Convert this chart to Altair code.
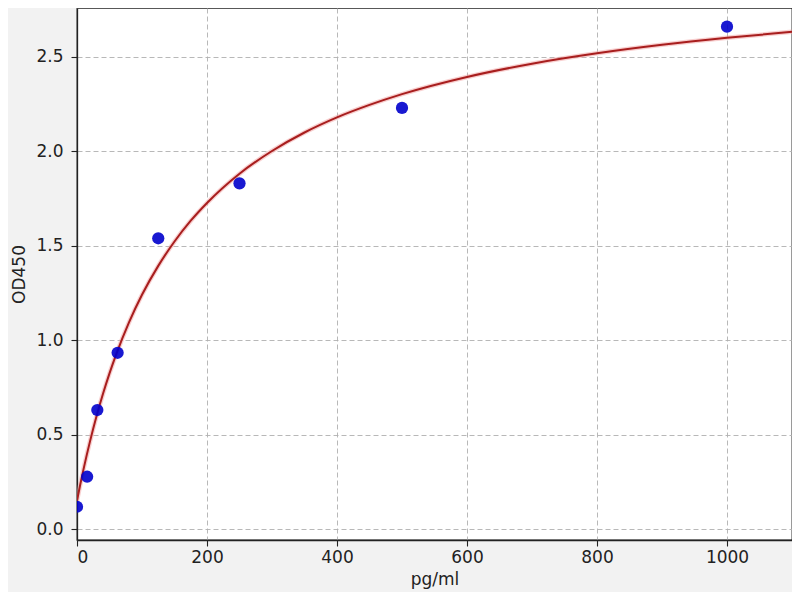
import altair as alt
import pandas as pd

# Standard points (pg/ml vs OD450)
conc = [0, 15.6, 31.25, 62.5, 125, 250, 500, 1000]
od = [0.118, 0.277, 0.630, 0.933, 1.539, 1.830, 2.229, 2.659]

# Fitted curve
curve_x = [0, 5, 10, 20, 30, 40, 50, 60, 80, 100, 125, 150, 175, 200, 250,
           300, 350, 400, 450, 500, 600, 700, 800, 900, 1000, 1100]
curve_y = [0.150, 0.236, 0.316, 0.464, 0.597, 0.716, 0.824, 0.922, 1.094,
           1.240, 1.393, 1.522, 1.632, 1.726, 1.881, 2.001, 2.099, 2.179,
           2.245, 2.302, 2.393, 2.463, 2.518, 2.563, 2.600, 2.632]

x_ticks = [0, 200, 400, 600, 800, 1000]
y_ticks = [0.0, 0.5, 1.0, 1.5, 2.0, 2.5]

pts = pd.DataFrame({"x": conc, "y": od})
crv = pd.DataFrame({"x": curve_x, "y": curve_y})

font = "DejaVu Sans"
fs = 17

xs = alt.Scale(domain=[0, 1100], nice=False, zero=False)
ys = alt.Scale(domain=[-0.058, 2.758], nice=False, zero=False)

common = dict(grid=True, gridDash=[5, 3], gridColor="#b0b0b0", gridWidth=0.9,
              domain=True, domainColor="#222", domainWidth=1.3,
              tickColor="#222", tickSize=6, tickWidth=1.1,
              labelFont=font, labelFontSize=fs, labelColor="#222",
              titleFont=font, titleFontSize=fs, titleFontWeight="normal",
              titleColor="#222")

xax = alt.Axis(values=x_ticks, title="pg/ml", format="d", labelPadding=3,
               titlePadding=6, **common)
yax = alt.Axis(values=y_ticks, title="OD450", format=".1f", labelPadding=8,
               titlePadding=7, **common)

halo = alt.Chart(crv).mark_line(color="#f2a0a0", strokeWidth=4.5, opacity=0.5,
                                interpolate="monotone", clip=True).encode(
    x=alt.X("x:Q", scale=xs, axis=xax),
    y=alt.Y("y:Q", scale=ys, axis=yax),
)
line = alt.Chart(crv).mark_line(color="#a81e1e", strokeWidth=2,
                                interpolate="monotone", clip=True).encode(
    x=alt.X("x:Q", scale=xs),
    y=alt.Y("y:Q", scale=ys),
)
points = alt.Chart(pts).mark_circle(color="#0000cc", size=150, opacity=0.9,
                                    clip=True).encode(
    x=alt.X("x:Q", scale=xs),
    y=alt.Y("y:Q", scale=ys),
)

chart = alt.layer(halo, line, points).properties(
    width=715, height=532,
    autosize=alt.AutoSizeParams(type="none"),
    padding={"left": 69, "top": 0, "right": 0, "bottom": 52},
    background="#f2f2f2",
).configure_view(
    fill="white", stroke="#222", strokeWidth=1.3,
)

chart.save("out.html", embed_options={"renderer": "svg", "actions": False})
